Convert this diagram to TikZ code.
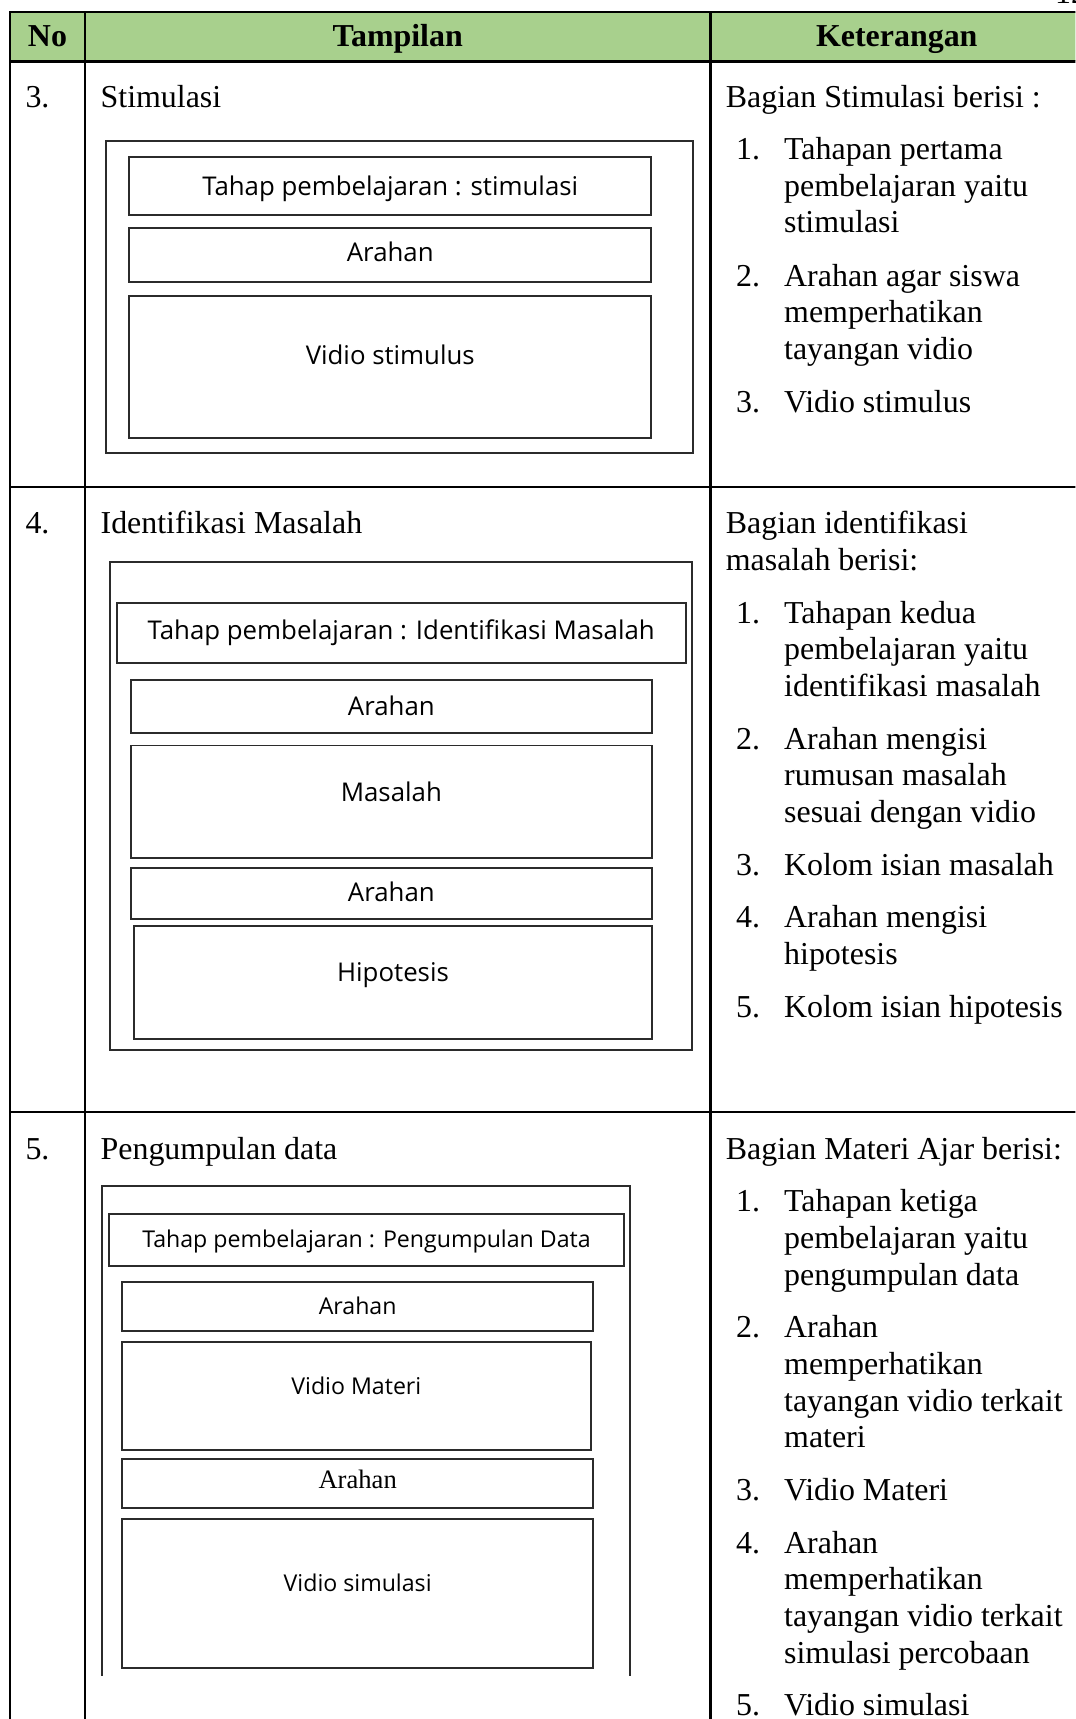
\documentclass[tikz,border=0pt]{standalone}
\usepackage{fontspec}
\setmainfont{Liberation Serif}
\newfontfamily\uifont{Open Sans}
\usetikzlibrary{positioning, fit}
\definecolor{head}{HTML}{A8D08D}
\definecolor{ink}{HTML}{000000}
\definecolor{wire}{HTML}{2B2B2B}

\begin{document}
\begin{tikzpicture}[
  x=0.412pt, y=-0.412pt,
  font=\fontsize{12}{13.8}\selectfont,
  tline/.style={draw=ink, line width=0.85pt},
  hd/.style={font=\fontsize{12}{13.8}\selectfont\bfseries, anchor=base, inner sep=0pt},
  cell/.style={anchor=base west, inner sep=0pt},
  para/.style={cell, text width=130pt, align=flush left},
  kitem/.style={cell, text width=110pt, align=flush left},
  panel/.style={draw=wire, line width=0.75pt, inner sep=0pt},
  lab/.style={font=\uifont\fontsize{9.7}{11}\selectfont, inner sep=0pt, text height=6.9pt, text depth=0pt},
  labs/.style={lab, font=\uifont\fontsize{8.7}{10}\selectfont, text height=6.2pt},
  labr/.style={lab, font=\fontsize{10}{11}\selectfont, text height=6.6pt}
]
  \useasboundingbox (0,0) rectangle (981,1568);
  \clip (0,0) rectangle (981,1568);

  \fill[head] (9,11) rectangle (990,55.7);
  \draw[tline] (990,11) -- (9,11) -- (9,1600);
  \draw[tline] (77.6,11) -- (77.6,1600);
  \draw[tline] (648,11) -- (648,1600);
  \draw[tline, line width=1.1pt] (9,55.7) -- (990,55.7);
  \draw[tline] (9,444.5) -- (990,444.5);
  \draw[tline] (9,1014.5) -- (990,1014.5);

  \node[cell] (pg) at (962,3.2) {12};

  \node[hd] (hno) at (43.3,42.6) {No};
  \node[hd] (htam) at (362.8,42.6) {Tampilan};
  \node[hd] (hket) at (818,42.6) {Keterangan};

  \node[cell] (n3) at (22.8,97.6) {3.};
  \node[cell] (t3) at (91.3,97.6) {Stimulasi};
  \node[para] (k3) at (661.6,97.6) {Bagian Stimulasi berisi :};
  \node[cell] (k3n1) at (671,145.4) {1.};
  \node[kitem] (k3i1) at (714.8,145.4) {Tahapan pertama\\pembelajaran yaitu\\stimulasi};
  \node[cell] (k3n2) at (671,260.9) {2.};
  \node[kitem] (k3i2) at (714.8,260.9) {Arahan agar siswa\\memperhatikan\\tayangan vidio};
  \node[cell] (k3n3) at (671,376.4) {3.};
  \node[kitem] (k3i3) at (714.8,376.4) {Vidio stimulus};

  \node[panel, fit={(97,128.4) (632,412.8)}] (f3) {};
  \node[panel, fit={(118,143.6) (594,196.2)}] (f3a) {};
  \node[panel, fit={(118,208.4) (594,257.6)}] (f3b) {};
  \node[panel, fit={(118,270.1) (594,399.1)}] (f3c) {};
  \node[lab] (f3at) at (f3a.center) {Tahap pembelajaran : stimulasi};
  \node[lab] (f3bt) at ([yshift=1.2pt]f3b.center) {Arahan};
  \node[lab] (f3ct) at ([yshift=4.2pt]f3c.center) {Vidio stimulus};

  \node[cell] (n4) at (22.8,486.8) {4.};
  \node[cell] (t4) at (91.3,486.8) {Identifikasi Masalah};
  \node[para] (k4) at (661.6,486.8) {Bagian identifikasi\\masalah berisi:};
  \node[cell] (k4n1) at (671,568.3) {1.};
  \node[kitem] (k4i1) at (714.8,568.3) {Tahapan kedua\\pembelajaran yaitu\\identifikasi masalah};
  \node[cell] (k4n2) at (671,683.3) {2.};
  \node[kitem] (k4i2) at (714.8,683.3) {Arahan mengisi\\rumusan masalah\\sesuai dengan vidio};
  \node[cell] (k4n3) at (671,798.3) {3.};
  \node[kitem] (k4i3) at (714.8,798.3) {Kolom isian masalah};
  \node[cell] (k4n4) at (671,846.3) {4.};
  \node[kitem] (k4i4) at (714.8,846.3) {Arahan mengisi\\hipotesis};
  \node[cell] (k4n5) at (671,927.8) {5.};
  \node[kitem] (k4i5) at (714.8,927.8) {Kolom isian hipotesis};

  \node[panel, fit={(100,512.6) (631.5,958)}] (f4) {};
  \node[panel, fit={(106.5,550) (625.4,604.4)}] (f4a) {};
  \node[panel, fit={(119.5,620) (594.4,668.6)}] (f4b) {};
  \node[panel, fit={(119.5,680) (594.4,782.4)}] (f4c) {};
  \node[panel, fit={(119.5,791.8) (594.4,838.7)}] (f4d) {};
  \node[panel, fit={(122.6,845) (594.4,947.5)}] (f4e) {};
  \node[lab] (f4at) at ([yshift=0.8pt]f4a.center) {Tahap pembelajaran : Identifikasi Masalah};
  \node[lab] (f4bt) at (f4b.center) {Arahan};
  \node[lab] (f4ct) at ([yshift=3.6pt]f4c.center) {Masalah};
  \node[lab] (f4dt) at ([yshift=0.6pt]f4d.center) {Arahan};
  \node[lab] (f4et) at ([yshift=3.7pt]f4e.center) {Hipotesis};

  \node[cell] (n5) at (22.8,1057.2) {5.};
  \node[cell] (t5) at (91.3,1057.2) {Pengumpulan data};
  \node[para] (k5) at (661.6,1057.2) {Bagian Materi Ajar berisi:};
  \node[cell] (k5n1) at (671,1105.2) {1.};
  \node[kitem] (k5i1) at (714.8,1105.2) {Tahapan ketiga\\pembelajaran yaitu\\pengumpulan data};
  \node[cell] (k5n2) at (671,1220.2) {2.};
  \node[kitem] (k5i2) at (714.8,1220.2) {Arahan\\memperhatikan\\tayangan vidio terkait\\materi};
  \node[cell] (k5n3) at (671,1368.7) {3.};
  \node[kitem] (k5i3) at (714.8,1368.7) {Vidio Materi};
  \node[cell] (k5n4) at (671,1416.7) {4.};
  \node[kitem] (k5i4) at (714.8,1416.7) {Arahan\\memperhatikan\\tayangan vidio terkait\\simulasi percobaan};
  \node[cell] (k5n5) at (671,1565.2) {5.};
  \node[kitem] (k5i5) at (714.8,1565.2) {Vidio simulasi};

  \draw[panel] (93.3,1528.6) |- (575,1082) -- (575,1528.6);
  \node[panel, fit={(99.4,1107.4) (569.3,1155.2)}] (f5a) {};
  \node[panel, fit={(111.2,1169.2) (541.3,1214.1)}] (f5b) {};
  \node[panel, fit={(111.2,1224.5) (538.9,1323)}] (f5c) {};
  \node[panel, fit={(111.2,1331.2) (541.3,1375.8)}] (f5d) {};
  \node[panel, fit={(111.2,1385.6) (541.3,1521.2)}] (f5e) {};
  \node[labs] (f5at) at ([yshift=0.5pt]f5a.center) {Tahap pembelajaran : Pengumpulan Data};
  \node[labs] (f5bt) at (f5b.center) {Arahan};
  \node[labs] (f5ct) at ([yshift=4pt]f5c.center) {Vidio Materi};
  \node[labr] (f5dt) at ([yshift=1.5pt]f5d.center) {Arahan};
  \node[labs] (f5et) at ([yshift=3.8pt]f5e.center) {Vidio simulasi};
\end{tikzpicture}
\end{document}
